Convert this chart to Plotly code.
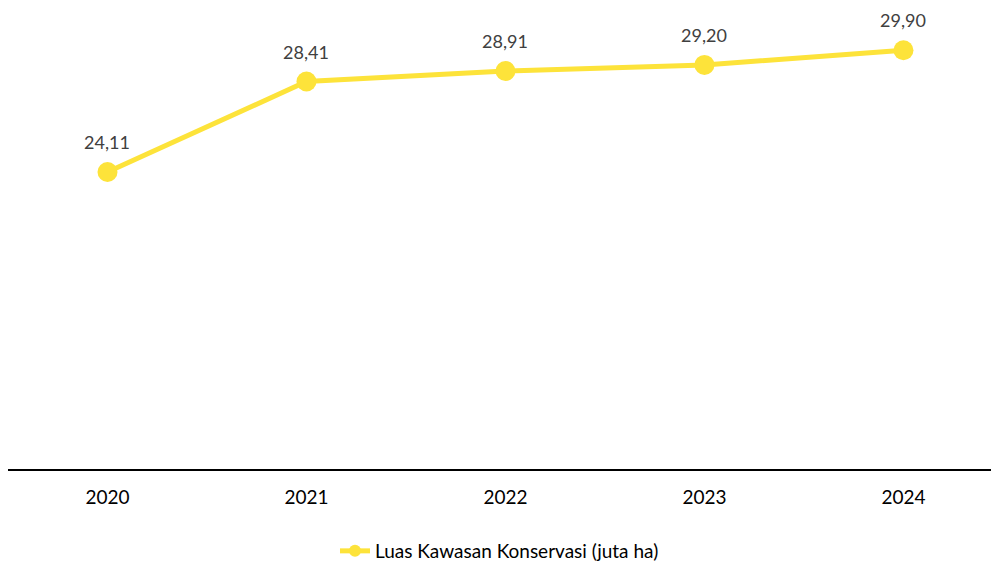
import plotly.graph_objects as go

years = ["2020", "2021", "2022", "2023", "2024"]
values = [24.11, 28.41, 28.91, 29.20, 29.90]
labels = ["24,11", "28,41", "28,91", "29,20", "29,90"]
series_name = "Luas Kawasan Konservasi (juta ha)"

color = "#FDE33A"

fig = go.Figure()
fig.add_trace(go.Scatter(
    x=years, y=values, mode="lines+markers", name=series_name,
    line=dict(color=color, width=5),
    marker=dict(color=color, size=20),
))
for i, (y, t) in enumerate(zip(values, labels)):
    fig.add_annotation(x=i, y=y, xref="x", yref="y", text=t, showarrow=False, yshift=30,
                       font=dict(family="Lato", size=18, color="#404040"))

fig.update_layout(
    width=991, height=563,
    margin=dict(l=8, r=0, t=6, b=94),
    paper_bgcolor="white", plot_bgcolor="white",
    font=dict(family="Lato", size=19, color="#000000"),
    xaxis=dict(type="category", range=[-0.5, 4.44], showline=True, linecolor="#000000",
               linewidth=2, showgrid=False, ticks="outside", ticklen=10,
               tickcolor="rgba(0,0,0,0)", tickfont=dict(size=19, color="#000000")),
    yaxis=dict(range=[10, 32], visible=False, showgrid=False, zeroline=False),
    showlegend=True,
    legend=dict(orientation="h", xref="container", yref="container",
                x=0.5 + 4 / 991, xanchor="center", y=1 - 551 / 563, yanchor="middle",
                itemsizing="constant",
                font=dict(size=19, color="#000000")),
)

fig.write_html(
    "out.html",
    config={"displayModeBar": False},
    post_script="document.body.style.margin='0';document.body.style.overflow='hidden';",
)
